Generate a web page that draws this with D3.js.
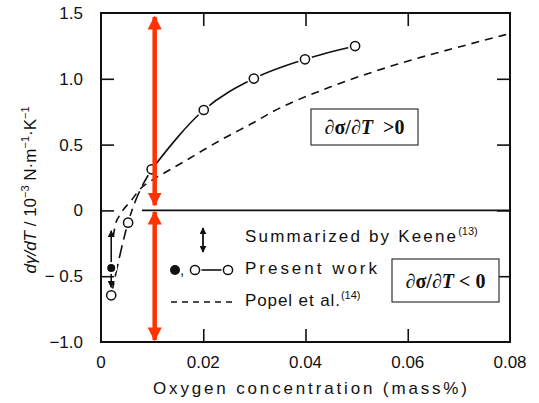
<!DOCTYPE html>
<html><head><meta charset="utf-8">
<script src="https://cdn.jsdelivr.net/npm/d3@7"></script>
<style>
html,body{margin:0;padding:0;background:#fff;}
svg{display:block;}
text{font-family:"Liberation Sans",Arial,sans-serif;fill:#111;}
</style></head>
<body>
<svg id="chart" width="539" height="403"></svg>
<script>
// ---- data ----
const xTicks = [0, 0.02, 0.04, 0.06, 0.08];
const xTickLabels = ["0", "0.02", "0.04", "0.06", "0.08"];
const yTicks = [-1.0, -0.5, 0, 0.5, 1.0, 1.5];
const yTickLabels = ["\u22121.0", "\u2212 0.5", "0", "0.5", "1.0", "1.5"];

const presentX = [0.002, 0.0053, 0.0099, 0.0201, 0.0299, 0.0399, 0.0497];
const presentY = [-0.645, -0.093, 0.312, 0.763, 1.002, 1.148, 1.249];
const filledX = [0.002];
const filledY = [-0.438];

const popelX = [0.0024, 0.0028, 0.0037, 0.0060, 0.0076, 0.0100, 0.0128, 0.0168, 0.0207, 0.0246, 0.0297, 0.0331, 0.0448, 0.0579, 0.0708, 0.0786, 0.0800];
const popelY = [-0.20, -0.11, -0.035, 0.079, 0.160, 0.230, 0.294, 0.383, 0.474, 0.560, 0.664, 0.740, 0.937, 1.110, 1.250, 1.330, 1.344];

const keeneX = 0.002;
const keeneRange = [-0.155, -0.585];

const redArrowX = 0.0105;
const redArrowRanges = [[1.47, 0.04], [-0.012, -0.985]];

// ---- layout ----
const svg = d3.select("#chart");
const x = d3.scaleLinear().domain([0, 0.08]).range([101, 510]);
const y = d3.scaleLinear().domain([-1, 1.5]).range([342, 13]);

const defs = svg.append("defs");
function marker(id, color, w, h) {
  defs.append("marker").attr("id", id).attr("viewBox", "0 0 10 10")
    .attr("refX", 9).attr("refY", 5).attr("markerUnits", "userSpaceOnUse")
    .attr("markerWidth", w).attr("markerHeight", h).attr("orient", "auto-start-reverse")
    .append("path").attr("d", "M0,0 L10,5 L0,10 z").attr("fill", color);
}
marker("redHead", "#ff3300", 14, 15);
marker("blackHead", "#111", 7, 7);

// frame
svg.append("rect").attr("x", x(0)).attr("y", y(1.5))
  .attr("width", x(0.08) - x(0)).attr("height", y(-1) - y(1.5))
  .attr("fill", "none").attr("stroke", "#111").attr("stroke-width", 2);

// ticks (inward) via axes
const tl = 13;
function styleTicks(g) { g.select(".domain").remove(); g.selectAll("line").attr("stroke", "#111").attr("stroke-width", 1.6); }
svg.append("g").attr("transform", `translate(0,${y(-1)})`)
  .call(d3.axisTop(x).tickValues(xTicks.slice(1, -1)).tickSize(tl).tickFormat("")).call(styleTicks);
svg.append("g").attr("transform", `translate(0,${y(1.5)})`)
  .call(d3.axisBottom(x).tickValues(xTicks.slice(1, -1)).tickSize(tl).tickFormat("")).call(styleTicks);
svg.append("g").attr("transform", `translate(${x(0)},0)`)
  .call(d3.axisRight(y).tickValues(yTicks.slice(1, -1)).tickSize(tl).tickFormat("")).call(styleTicks);
svg.append("g").attr("transform", `translate(${x(0.08)},0)`)
  .call(d3.axisLeft(y).tickValues(yTicks.slice(1, -1)).tickSize(tl).tickFormat("")).call(styleTicks);

// tick labels
svg.append("g").selectAll("text").data(xTicks).join("text")
  .attr("x", d => x(d)).attr("y", 368).attr("text-anchor", "middle")
  .attr("font-size", 17).text((d, i) => xTickLabels[i]);
svg.append("g").selectAll("text").data(yTicks).join("text")
  .attr("x", 83).attr("y", d => y(d) + 6).attr("text-anchor", "end")
  .attr("font-size", 17).text((d, i) => yTickLabels[i]);

// axis titles
svg.append("text").attr("x", 310).attr("y", 394).attr("text-anchor", "middle")
  .attr("font-size", 17).attr("textLength", 314).attr("lengthAdjust", "spacing")
  .text("Oxygen concentration (mass%)");
const yl = svg.append("text").attr("transform", "translate(36,190) rotate(-90)")
  .attr("text-anchor", "middle").attr("font-size", 17);
yl.append("tspan").attr("font-style", "italic").text("d\u03B3/dT");
yl.append("tspan").text(" / 10");
yl.append("tspan").attr("font-size", 11).attr("dy", -7).text("\u22123");
yl.append("tspan").attr("dy", 7).text(" N\u00B7m");
yl.append("tspan").attr("font-size", 11).attr("dy", -7).text("\u22121");
yl.append("tspan").attr("dy", 7).text("\u00B7K");
yl.append("tspan").attr("font-size", 11).attr("dy", -7).text("\u22121");

// zero line
svg.append("line").attr("x1", x(0.008)).attr("x2", x(0.08))
  .attr("y1", y(0)).attr("y2", y(0)).attr("stroke", "#111").attr("stroke-width", 1.6);

// Popel curve
const popel = popelX.map((d, i) => [d, popelY[i]]);
svg.append("path").datum(popel)
  .attr("d", d3.line().x(d => x(d[0])).y(d => y(d[1])).curve(d3.curveMonotoneX))
  .attr("fill", "none").attr("stroke", "#111").attr("stroke-width", 1.6)
  .attr("stroke-dasharray", "8,6");

// Present work curve
const present = presentX.map((d, i) => [d, presentY[i]]);
const lineGen = d3.line().x(d => x(d[0])).y(d => y(d[1])).curve(d3.curveMonotoneX);
svg.append("path").datum(present.slice(0, 3)).attr("d", lineGen)
  .attr("fill", "none").attr("stroke", "#111").attr("stroke-width", 1.6)
  .attr("stroke-dasharray", "13,6");
svg.append("path").datum(present.slice(2)).attr("d", lineGen)
  .attr("fill", "none").attr("stroke", "#111").attr("stroke-width", 1.6);

// Keene range arrow in plot
svg.append("line").attr("x1", x(keeneX)).attr("x2", x(keeneX))
  .attr("y1", y(keeneRange[0])).attr("y2", y(keeneRange[1]))
  .attr("stroke", "#111").attr("stroke-width", 1.6)
  .attr("marker-start", "url(#blackHead)").attr("marker-end", "url(#blackHead)");

// markers
svg.append("g").selectAll("circle").data(present).join("circle")
  .attr("cx", d => x(d[0])).attr("cy", d => y(d[1])).attr("r", 4.6)
  .attr("fill", "#fff").attr("stroke", "#fff").attr("stroke-width", 5);
svg.append("g").selectAll("circle").data(present).join("circle")
  .attr("cx", d => x(d[0])).attr("cy", d => y(d[1])).attr("r", 4.6)
  .attr("fill", "#fff").attr("stroke", "#111").attr("stroke-width", 1.5);
svg.append("g").selectAll("circle").data(filledX).join("circle")
  .attr("cx", d => x(d)).attr("cy", (d, i) => y(filledY[i])).attr("r", 5)
  .attr("fill", "#111").attr("stroke", "#fff").attr("stroke-width", 2);

// red arrows
svg.append("g").selectAll("line").data(redArrowRanges).join("line")
  .attr("x1", x(redArrowX)).attr("x2", x(redArrowX))
  .attr("y1", d => y(d[0])).attr("y2", d => y(d[1]))
  .attr("stroke", "#ff3300").attr("stroke-width", 4.5)
  .attr("marker-start", "url(#redHead)").attr("marker-end", "url(#redHead)");

// legend
const lg = svg.append("g");
lg.append("line").attr("x1", 203).attr("x2", 203).attr("y1", 228).attr("y2", 252)
  .attr("stroke", "#111").attr("stroke-width", 1.8)
  .attr("marker-start", "url(#blackHead)").attr("marker-end", "url(#blackHead)");
const t1 = lg.append("text").attr("x", 245).attr("y", 242).attr("font-size", 17);
t1.append("tspan").attr("textLength", 211).attr("lengthAdjust", "spacing").text("Summarized by Keene");
t1.append("tspan").attr("font-size", 11).attr("dy", -7).text("(13)");
lg.append("circle").attr("cx", 175).attr("cy", 270).attr("r", 5).attr("fill", "#111");
lg.append("text").attr("x", 180).attr("y", 275).attr("font-size", 15).text(",");
lg.append("line").attr("x1", 200).attr("x2", 222).attr("y1", 270).attr("y2", 270)
  .attr("stroke", "#111").attr("stroke-width", 1.6);
lg.append("circle").attr("cx", 195).attr("cy", 270).attr("r", 4.6).attr("fill", "#fff").attr("stroke", "#fff").attr("stroke-width", 4);
lg.append("circle").attr("cx", 228).attr("cy", 270).attr("r", 4.6).attr("fill", "#fff").attr("stroke", "#fff").attr("stroke-width", 4);
lg.append("circle").attr("cx", 195).attr("cy", 270).attr("r", 4.6).attr("fill", "#fff").attr("stroke", "#111").attr("stroke-width", 1.5);
lg.append("circle").attr("cx", 228).attr("cy", 270).attr("r", 4.6).attr("fill", "#fff").attr("stroke", "#111").attr("stroke-width", 1.5);
lg.append("text").attr("x", 245).attr("y", 274).attr("font-size", 17)
  .attr("textLength", 132).attr("lengthAdjust", "spacing").text("Present work");
lg.append("line").attr("x1", 171).attr("x2", 233).attr("y1", 302).attr("y2", 302)
  .attr("stroke", "#111").attr("stroke-width", 1.5).attr("stroke-dasharray", "6,5");
const t3 = lg.append("text").attr("x", 245).attr("y", 306).attr("font-size", 17);
t3.append("tspan").attr("textLength", 95).attr("lengthAdjust", "spacing").text("Popel et al.");
t3.append("tspan").attr("font-size", 11).attr("dy", -7).text("(14)");

// annotation boxes
function box(x0, y0, w, h, op) {
  svg.append("rect").attr("x", x0).attr("y", y0).attr("width", w).attr("height", h)
    .attr("fill", "#fff").attr("stroke", "#333").attr("stroke-width", 1.2);
  const t = svg.append("text").attr("x", x0 + w / 2).attr("y", y0 + h / 2 + 7)
    .attr("text-anchor", "middle").attr("font-size", 20).attr("font-weight", "bold")
    .style("font-family", "'Liberation Serif','Times New Roman',serif");
  t.append("tspan").text("\u2202\u03C3/\u2202");
  t.append("tspan").attr("font-style", "italic").text("T");
  t.append("tspan").text(op);
}
box(311, 109, 107, 36, "\u00A0 >0");
box(392, 259, 107, 43, " < 0");
</script>
</body></html>
